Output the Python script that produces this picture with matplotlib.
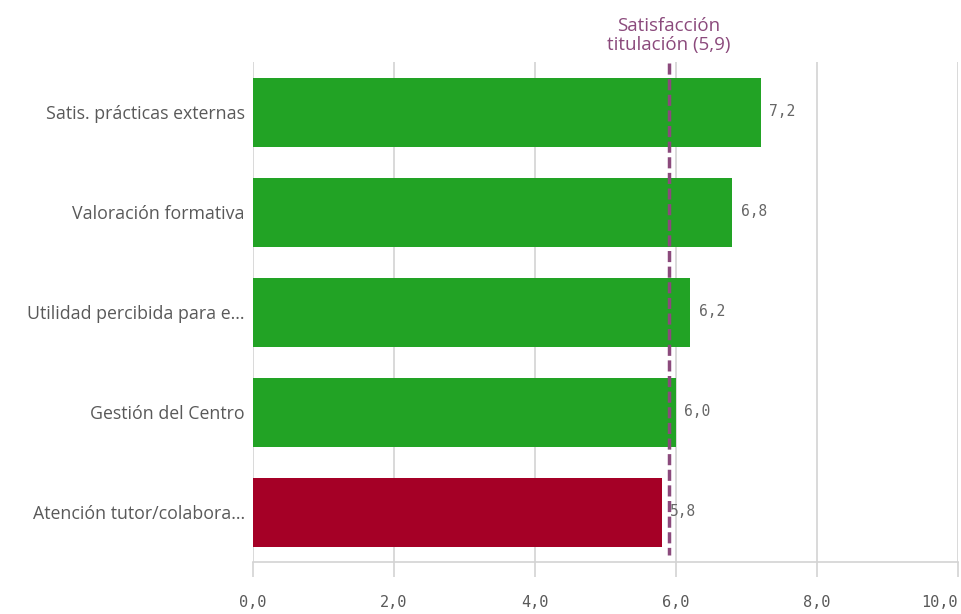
import matplotlib
matplotlib.use("Agg")
import matplotlib.pyplot as plt

# datos
categorias = ["Satis. prácticas externas", "Valoración formativa",
              "Utilidad percibida para e...", "Gestión del Centro",
              "Atención tutor/colabora..."]
valores = [7.2, 6.8, 6.2, 6.0, 5.8]
referencia = 5.9
ref_titulo = "Satisfacción\ntitulación (5,9)"
ticks_x = [0, 2, 4, 6, 8, 10]

verde = "#22a325"
rojo = "#a50026"
morado = "#8b4a7c"
gris = "#595959"

colores = [verde if v >= referencia else rojo for v in valores]

fig = plt.figure(figsize=(9.62, 6.14), dpi=100)
ax = fig.add_axes([253 / 962, 1 - 562 / 614, 705 / 962, 500 / 614])

pos = list(range(len(categorias)))
ax.barh(pos, valores, height=0.69, color=colores, zorder=2)
ax.set_ylim(4.5, -0.5)
ax.set_xlim(0, 10)

# rejilla
ax.set_xticks(ticks_x)
ax.set_xticklabels([f"{t:.1f}".replace(".", ",") for t in ticks_x],
                   family="DejaVu Sans Mono", fontsize=11, color=gris)
ax.get_xticklabels()[-1].set_ha("right")
ax.grid(axis="x", color="#d3d3d3", linewidth=1.2, zorder=0)
for s in ["top", "right", "left"]:
    ax.spines[s].set_visible(False)
ax.spines["bottom"].set_color("#d3d3d3")
ax.spines["bottom"].set_linewidth(1.2)
ax.tick_params(axis="x", length=11, width=1.2, color="#d3d3d3", pad=13)
ax.tick_params(axis="y", length=0, pad=6)
ax.set_yticks(pos)
ax.set_yticklabels(categorias, family="Open Sans", fontsize=12.8, color=gris)

# etiquetas de valor
for p, v in zip(pos, valores):
    ax.text(v + 0.12, p, f"{v:.1f}".replace(".", ","), va="center", ha="left",
            family="DejaVu Sans Mono", fontsize=10.5, color="#666666", zorder=4)

# línea de referencia
ax.plot([referencia, referencia], [-0.49, 4.43], color=morado, linewidth=2.5,
        linestyle=(0, (3.2, 1.3)), zorder=3, clip_on=False)
ax.text(referencia, -0.58, ref_titulo, ha="center", va="bottom",
        family="Open Sans", fontsize=13.5, color=morado, linespacing=1.05)

plt.savefig("out.png", dpi=100)
